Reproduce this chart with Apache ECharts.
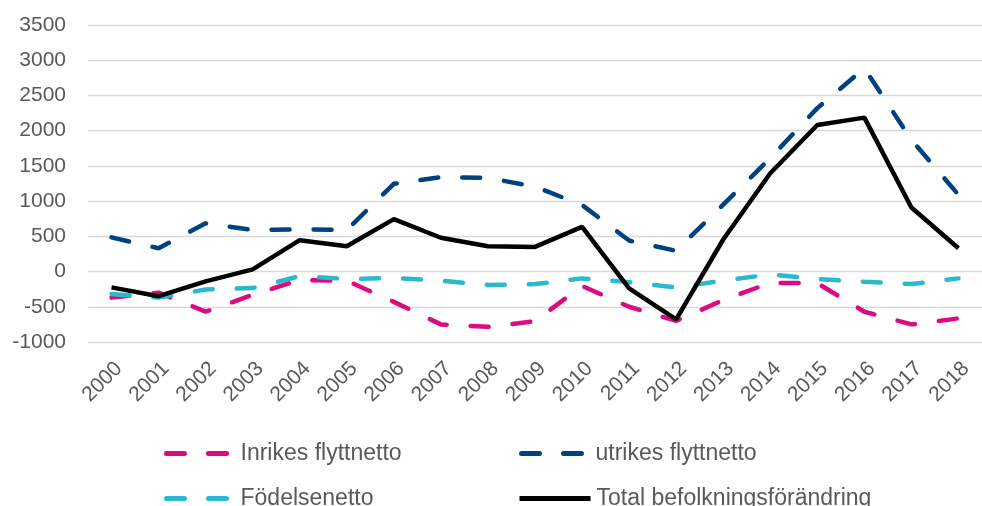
<!DOCTYPE html>
<html lang="sv">
<head>
    <meta charset="UTF-8">
    <title>Befolkningsförändring</title>
    <style>
        *{
            margin: 0;
            padding: 0;
        }
        #box{
            width: 982px;
            height: 506px;
        }
    </style>
    <script src="https://cdn.jsdelivr.net/npm/echarts@6/dist/echarts.min.js"></script>
</head>
<body>
    <div id="box"></div>
    <script>
        // år
        var years = ['2000','2001','2002','2003','2004','2005','2006','2007','2008','2009',
                     '2010','2011','2012','2013','2014','2015','2016','2017','2018'];
        // serier
        var inrikes = [-370,-300,-570,-330,-120,-130,-430,-750,-785,-705,-205,-500,-700,-405,-160,-165,-570,-750,-665];
        var utrikes = [485,330,685,590,600,590,1245,1340,1330,1205,945,440,295,950,1610,2320,2885,1870,1090];
        var fodelse = [-320,-370,-255,-235,-65,-105,-92,-130,-190,-178,-97,-150,-225,-130,-40,-107,-145,-178,-97];
        var total = [-225,-350,-140,30,445,360,745,480,360,350,635,-240,-680,455,1395,2080,2185,910,330];

        var txt = '#595959';
        var font = 'Liberation Sans';

        function legendAt(name, left, top, width, pad){
            return {
                data: [name],
                left: left,
                top: top,
                padding: 0,
                itemWidth: width,
                itemHeight: 14,
                selectedMode: false,
                lineStyle: { width: 5 },
                // dölj cirkeln mitt i ikonen
                itemStyle: { color: 'rgba(0,0,0,0)', borderWidth: 0, opacity: 0 },
                textStyle: { color: txt, fontFamily: font, fontSize: 23, padding: [0,0,0,pad] }
            };
        }

        var dash = [18, 24];

        var myChart = echarts.init(document.getElementById('box'));
        var option = {
            animation: false,
            grid: {
                left: 88,
                top: 25,
                width: 907,
                height: 317
            },
            legend: [
                legendAt('Inrikes flyttnetto', 164, 442, 62, 7),
                legendAt('utrikes flyttnetto', 519, 442, 62, 7),
                legendAt('Födelsenetto', 164, 487, 62, 7),
                legendAt('Total befolkningsförändring', 517, 487, 71, 1)
            ],
            xAxis: {
                type: 'category',
                data: years,
                boundaryGap: true,
                axisLine: { show: false },
                axisTick: { show: false },
                axisLabel: {
                    rotate: 45,
                    margin: 16,
                    interval: 0,
                    verticalAlign: 'top',
                    color: txt,
                    fontFamily: font,
                    fontSize: 21
                }
            },
            yAxis: {
                type: 'value',
                min: -1000,
                max: 3500,
                interval: 500,
                axisLine: { show: false },
                axisTick: { show: false },
                axisLabel: {
                    margin: 22,
                    color: txt,
                    fontFamily: font,
                    fontSize: 21,
                    formatter: function(v){ return String(v); }
                },
                splitLine: { lineStyle: { color: '#d9d9d9', width: 1.3 } }
            },
            series: [
                {
                    name: 'Inrikes flyttnetto',
                    type: 'line',
                    symbol: 'none',
                    data: inrikes,
                    lineStyle: { color: '#dc0b82', width: 4.5, type: dash, cap: 'round' },
                    itemStyle: { color: '#dc0b82' }
                },
                {
                    name: 'utrikes flyttnetto',
                    type: 'line',
                    symbol: 'none',
                    data: utrikes,
                    lineStyle: { color: '#00427f', width: 4.5, type: dash, cap: 'round' },
                    itemStyle: { color: '#00427f' }
                },
                {
                    name: 'Födelsenetto',
                    type: 'line',
                    symbol: 'none',
                    data: fodelse,
                    lineStyle: { color: '#2ab9cf', width: 4.5, type: dash, cap: 'round' },
                    itemStyle: { color: '#2ab9cf' }
                },
                {
                    name: 'Total befolkningsförändring',
                    type: 'line',
                    symbol: 'none',
                    data: total,
                    lineStyle: { color: '#000000', width: 4.5 },
                    itemStyle: { color: '#000000' }
                }
            ]
        };
        myChart.setOption(option);
    </script>
</body>
</html>
